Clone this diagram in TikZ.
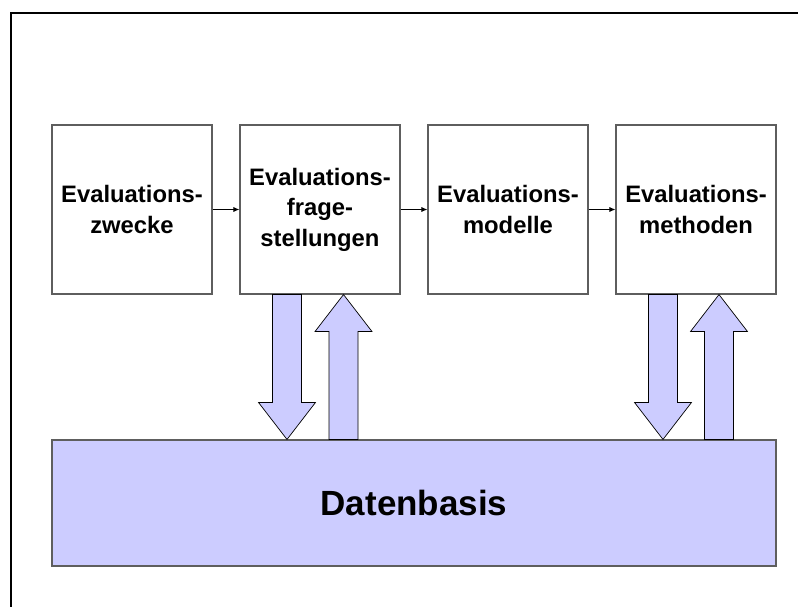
\documentclass[tikz,border=0pt]{standalone}
\usepackage{fontspec}
\setmainfont{Liberation Sans}
\usetikzlibrary{calc,arrows.meta}
\definecolor{dbfill}{HTML}{CCCCFF}
\definecolor{boxline}{HTML}{5E5E5E}
\tikzset{
  stage/.style={draw=boxline, line width=1.1pt, fill=white, minimum width=160pt,
    minimum height=169pt, inner sep=0pt, align=center,
    font=\fontsize{23.8}{30.5}\selectfont\bfseries},
  base/.style={draw=boxline, line width=1.1pt, fill=dbfill, minimum width=724pt,
    minimum height=126pt, inner sep=0pt,
    font=\fontsize{35}{40}\selectfont\bfseries},
  flow/.style={-{Latex[length=6pt,width=5pt]}, line width=0.8pt, black},
  fat/.style={draw=black, line width=0.7pt, fill=dbfill, line join=miter},
}
% block arrows: #1 = upper end, #2 = lower end
\newcommand\fatdown[2]{%
  \draw[fat] let \p1=(#1), \p2=(#2) in
    (\x1-14.5pt,\y1) -- (\x1+14.5pt,\y1) -- (\x1+14.5pt,\y2+37pt) --
    (\x1+28.5pt,\y2+37pt) -- (\x1,\y2) -- (\x1-28.5pt,\y2+37pt) --
    (\x1-14.5pt,\y2+37pt) -- cycle;}
\newcommand\fatup[2]{%
  \draw[fat] let \p1=(#1), \p2=(#2) in
    (\x1-14.5pt,\y2) -- (\x1+14.5pt,\y2) -- (\x1+14.5pt,\y1-37pt) --
    (\x1+28.5pt,\y1-37pt) -- (\x1,\y1) -- (\x1-28.5pt,\y1-37pt) --
    (\x1-14.5pt,\y1-37pt) -- cycle;}
\begin{document}
\begin{tikzpicture}[x=1pt, y=-1pt]
  \useasboundingbox (0,0) rectangle (798,607);
  % outer frame (left and top edges)
  \draw[line width=2pt] (11,607) -- (11,13) -- (798,13);

  \node[stage] (zw) at (132,209.5) {Evaluations-\\zwecke};
  \node[stage] (fr) at (320,209.5) {\raisebox{-6pt}{\begin{tabular}{@{}c@{}}Evaluations-\\frage-\\stellungen\end{tabular}}};
  \node[stage] (mo) at (508,209.5) {Evaluations-\\modelle};
  \node[stage] (me) at (696,209.5) {Evaluations-\\methoden};

  \node[base] (db) at (414,503) {Datenbasis};

  \draw[flow] (zw.east) -- (fr.west);
  \draw[flow] (fr.east) -- (mo.west);
  \draw[flow] (mo.east) -- (me.west);

  \coordinate (a1) at ($(fr.south)+(-33,0)$);
  \coordinate (a2) at ($(fr.south)+(23.5,0)$);
  \coordinate (a3) at ($(me.south)+(-33,0)$);
  \coordinate (a4) at ($(me.south)+(23,0)$);
  \fatdown{a1}{a1 |- db.north}
  \fatup{a2}{a2 |- db.north}
  \fatdown{a3}{a3 |- db.north}
  \fatup{a4}{a4 |- db.north}
\end{tikzpicture}
\end{document}
